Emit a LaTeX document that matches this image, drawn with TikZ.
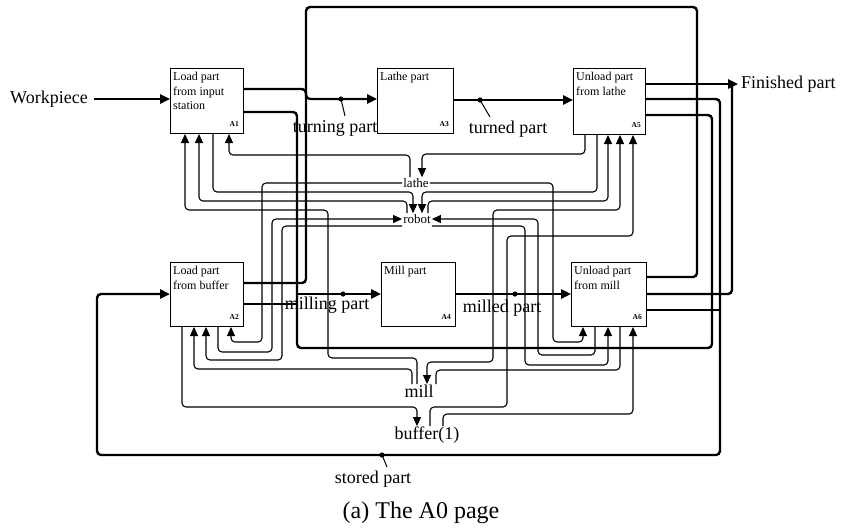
\documentclass[tikz,border=0pt]{standalone}
\usepackage{fontspec}
\setmainfont{Liberation Serif}
\usetikzlibrary{arrows.meta}
\begin{document}
\begin{tikzpicture}[x=1pt,y=-1pt,
  flow/.style={line width=2.4pt, rounded corners=4pt},
  res/.style={line width=1.1pt, rounded corners=4pt},
  tip/.style={-{Triangle[length=9pt,width=8pt]}},
  ftip/.style={-{Triangle[length=10pt,width=9pt]}},
  box/.style={draw, line width=1pt, anchor=north west, inner sep=0pt},
  btxt/.style={anchor=north west, font=\fontsize{12}{14.5}\selectfont, align=left, inner sep=0pt},
  bid/.style={anchor=south east, font=\fontsize{7.5}{8}\selectfont\bfseries, inner sep=0pt},
  big/.style={font=\fontsize{18}{20}\selectfont, inner sep=0pt},
  rlbl/.style={font=\fontsize{13}{14}\selectfont, inner sep=1pt},
  mlbl/.style={font=\fontsize{18}{20}\selectfont, inner sep=0.5pt},
  dotline/.style={line width=1pt}
]
\useasboundingbox (0,0) rectangle (842,528);

% boxes
\node[box, minimum width=73pt, minimum height=65pt] (A1) at (170,68) {};
\node[box, minimum width=76pt, minimum height=65pt] (A3) at (377,68) {};
\node[box, minimum width=72pt, minimum height=66pt] (A5) at (573,68) {};
\node[box, minimum width=73pt, minimum height=64pt] (A2) at (170,262) {};
\node[box, minimum width=74pt, minimum height=64pt] (A4) at (381,262) {};
\node[box, minimum width=75pt, minimum height=64pt] (A6) at (571,262) {};

\node[btxt] (t1) at (173,72) {Load part\\from input\\station};
\node[btxt] (t3) at (380,72) {Lathe part};
\node[btxt] (t5) at (576,72) {Unload part\\from lathe};
\node[btxt] (t2) at (173,266) {Load part\\from buffer};
\node[btxt] (t4) at (384,266) {Mill part};
\node[btxt] (t6) at (574,266) {Unload part\\from mill};

\node[bid] (i1) at (239,127) {A1};
\node[bid] (i3) at (449,127) {A3};
\node[bid] (i5) at (641,128) {A5};
\node[bid] (i2) at (239,320) {A2};
\node[bid] (i4) at (451,320) {A4};
\node[bid] (i6) at (642,320) {A6};

% texts
\node[big] (wp) at (49,99) {Workpiece};
\node[big, anchor=west] (fin) at (741,84) {Finished part};
\node[big] (ltp) at (335,128) {turning part};
\node[big] (ltd) at (508,129) {turned part};
\node[big] (lmp) at (327,305) {milling part};
\node[big] (lmd) at (502,308) {milled part};
\node[big] (lsp) at (373,479) {stored part};
\node[font=\fontsize{24}{26}\selectfont, inner sep=0pt] (cap) at (421,513) {(a) The A0 page};

\node[rlbl] (lathe) at (416,183) {lathe};
\node[rlbl] (robot) at (417,219) {robot};
\node[mlbl] (mill) at (419,391) {mill};
\node[mlbl] (buf) at (427,435) {buffer(1)};

% main flows
\draw[flow,ftip] ([xshift=6pt]wp.east) -- (A1.west |- wp.east);
\draw[flow,ftip] (A1.east |- 0,89) -- (306,89) -- (306,99) -- (A3.west |- 0,99);
\draw[flow] (A6.east |- 0,277) -- (697,277) -- (697,7) -- (306,7) -- (306,283) -- (A2.east |- 0,283);
\draw[flow,ftip] (A3.east |- 0,100) -- (A5.west |- 0,100);
\draw[flow,ftip] (A5.east |- 0,84) -- ([xshift=-3pt]fin.west);
\draw[flow] (A6.east |- 0,294) -- (732,294) -- (732,84);
\draw[flow,ftip] (A5.east |- 0,99) -- (720,99) -- (720,455) -- (97,455) -- (97,294) -- (A2.west |- 0,294);
\draw[flow] (A6.east |- 0,310) -- (720,310);
\draw[flow] (A5.east |- 0,115) -- (712,115) -- (712,348) -- (297,348) -- (297,112) -- (A1.east |- 0,112);
\coordinate (mj) at (297,294);
\draw[flow,ftip] (mj) -- (A4.west |- mj);
\draw[flow] (A2.east |- 0,304) -- (297,304);
\draw[flow,ftip] (A4.east |- 0,294) -- (A6.west |- 0,294);

% dots and ticks
\fill (341,99) circle (2.6pt);  \draw[dotline] (341,99) -- (345,116);
\fill (480,100) circle (2.6pt); \draw[dotline] (480,100) -- (490,117);
\fill (343,294) circle (2.6pt);
\fill (515,294) circle (2.6pt);
\fill (382,455) circle (2.6pt); \draw[dotline] (382,455) -- (387,467);

% lathe
\draw[res,tip] (A5.south -| 585,0) -- (585,154) -- (422,154) -- (lathe.north -| 422,0);
\draw[res,tip] (lathe.north -| 410,0) -- (410,155) -- (229,155) -- (A1.south -| 229,0);
\draw[res,tip] (lathe.west) -- (262,183) -- (262,342) -- (231,342) -- (A2.south -| 231,0);
\draw[res,tip] (lathe.east) -- (553,183) -- (553,342) -- (583,342) -- (A6.south -| 583,0);

% robot
\draw[res,tip] (A1.south -| 213,0) -- (213,192) -- (413,192) -- (robot.north -| 413,0);
\draw[res,tip] (A5.south -| 597,0) -- (597,192) -- (422,192) -- (robot.north -| 422,0);
\draw[res,tip] (robot.north -| 407,0) -- (407,201) -- (199,201) -- (A1.south -| 199,0);
\draw[res,tip] (robot.north -| 428,0) -- (428,201) -- (608,201) -- (A5.south -| 608,0);
\draw[res,tip] (A2.south -| 218,0) -- (218,352) -- (272,352) -- (272,219) -- (robot.west);
\draw[res,tip] (A6.south -| 595,0) -- (595,355) -- (538,355) -- (538,219) -- (robot.east);
\draw[res,tip] (robot.west |- 0,226) -- (282,226) -- (282,360) -- (206,360) -- (A2.south -| 206,0);
\draw[res,tip] (robot.east |- 0,226) -- (525,226) -- (525,365) -- (608,365) -- (A6.south -| 608,0);

% mill
\draw[res,tip] (mill.north -| 417,0) -- (417,358) -- (328,358) -- (328,210) -- (185,210) -- (A1.south -| 185,0);
\draw[res,tip] (mill.north -| 412,0) -- (412,369) -- (194,369) -- (A2.south -| 194,0);
\draw[res,{Triangle[length=9pt,width=8pt]}-{Triangle[length=9pt,width=8pt]}] (mill.north -| 427,0) -- (427,362) -- (493,362) -- (493,210) -- (620,210) -- (A5.south -| 620,0);
\draw[res] (A6.south -| 620,0) -- (620,370) -- (436,370) -- (mill.north -| 436,0);

% buffer
\draw[res,tip] (A2.south -| 182,0) -- (182,407) -- (417,407) -- (buf.north -| 417,0);
\draw[res,tip] (buf.north -| 430,0) -- (430,407) -- (507,407) -- (507,236) -- (633,236) -- (A5.south -| 633,0);
\draw[res,tip] (buf.north -| 443,0) -- (443,414) -- (633,414) -- (A6.south -| 633,0);
\end{tikzpicture}
\end{document}
